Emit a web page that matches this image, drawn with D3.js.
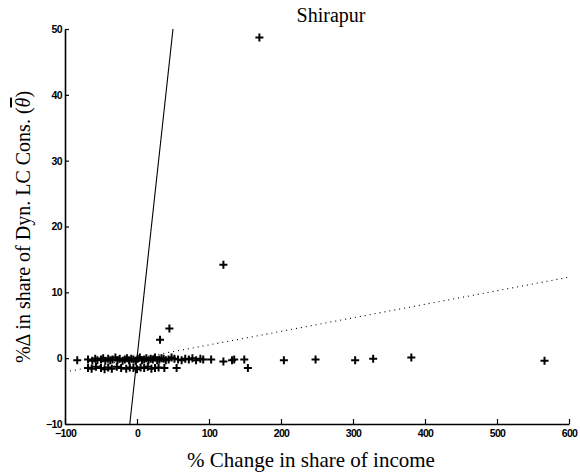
<!DOCTYPE html>
<html><head><meta charset="utf-8">
<script src="https://cdn.jsdelivr.net/npm/d3@7"></script>
<style>body{margin:0;background:#fff}</style>
</head><body>
<svg id="c" width="580" height="476"></svg>
<script>
const xTicks = [-100, 0, 100, 200, 300, 400, 500, 600];
const yTicks = [-10, 0, 10, 20, 30, 40, 50];
// scatter points [x, y]
const pointsX = [-83,-68,-62,-58,-55,-50,-47,-44,-40,-37,-34,-30,-27,-24,-20,-17,-14,-11,-8,-5,-2,1,4,7,10,13,16,19,22,25,28,31,34,37,40,44,48,52,57,62,67,72,77,82,88,92,103,120,132,135,149,204,248,303,328,381,566,
  -68,-63,-57,-50,-45,-40,-35,-28,-22,-15,-10,-5,0,5,10,15,20,25,30,38,55,154,
  32,45,120,170];
const pointsY = [-0.3,-0.2,-0.4,-0.1,-0.3,-0.2,0.0,-0.4,-0.1,-0.3,-0.2,0.1,-0.3,-0.1,-0.4,-0.2,0.0,-0.3,-0.1,-0.2,-0.4,-0.1,0.1,-0.3,-0.2,0.0,-0.3,-0.1,-0.2,0.1,-0.3,-0.2,0.0,-0.1,-0.3,-0.2,0.1,-0.1,-0.2,-0.3,-0.1,-0.2,0.0,-0.3,-0.1,-0.2,-0.2,-0.5,-0.3,-0.2,-0.2,-0.3,-0.2,-0.3,-0.1,0.1,-0.4,
  -1.5,-1.6,-1.3,-1.5,-1.7,-1.4,-1.6,-1.3,-1.5,-1.6,-1.4,-1.5,-1.7,-1.4,-1.5,-1.3,-1.6,-1.5,-1.4,-1.5,-1.5,-1.5,
  2.8,4.5,14.2,48.7];
const identityLine = [[-10,-10],[50,50]];
const fitLine = [[-100,-2.1],[600,12.3]];

const svg = d3.select('#c');
const x = d3.scaleLinear().domain([-100,600]).range([65,569]);
const y = d3.scaleLinear().domain([-10,50]).range([424,29]);

const tickFont = 'bold 10.5px "Liberation Sans", Arial, sans-serif';
const serif = '"Liberation Serif", "Times New Roman", serif';

const xa = svg.append('g').attr('transform','translate(0,424)')
  .call(d3.axisBottom(x).tickValues(xTicks).tickSizeInner(-5).tickSizeOuter(0).tickPadding(6));
const ya = svg.append('g').attr('transform','translate(65,0)')
  .call(d3.axisLeft(y).tickValues(yTicks).tickSizeInner(-4).tickSizeOuter(0).tickPadding(3));
[xa,ya].forEach(a=>{
  a.select('.domain').attr('stroke','#000').attr('stroke-width',1.6);
  a.selectAll('.tick line').attr('stroke','#000').attr('stroke-width',1.2);
  a.selectAll('.tick text').style('font',tickFont).style('letter-spacing','-0.6px').attr('fill','#000');
});

const line = d3.line().x(d=>x(d[0])).y(d=>y(d[1]));
svg.append('path').attr('d',line(identityLine)).attr('stroke','#000').attr('stroke-width',1.1).attr('fill','none');
svg.append('path').attr('d',line(fitLine)).attr('stroke','#000').attr('stroke-width',1.1)
  .attr('stroke-dasharray','1,4').attr('fill','none');

const pts = pointsX.map((v,i)=>[v,pointsY[i]]);
svg.append('g').selectAll('path').data(pts).join('path')
  .attr('d',d=>`M${x(d[0])-4},${y(d[1])}h8M${x(d[0])},${y(d[1])-4}v8`)
  .attr('stroke','#000').attr('stroke-width',2).attr('fill','none');

svg.append('text').attr('x',331).attr('y',22).attr('text-anchor','middle')
  .style('font','20px ' + serif).text('Shirapur');
svg.append('text').attr('x',311).attr('y',467).attr('text-anchor','middle')
  .style('font','21px ' + serif).text('% Change in share of income');
const yl = svg.append('text').attr('transform','translate(30,227) rotate(-90)').attr('text-anchor','middle')
  .style('font','20px ' + serif);
yl.append('tspan').text('%Δ in share of Dyn. LC Cons. (');
yl.append('tspan').style('font-style','italic').style('text-decoration','overline').text('θ');
yl.append('tspan').text(')');
</script>
</body></html>
